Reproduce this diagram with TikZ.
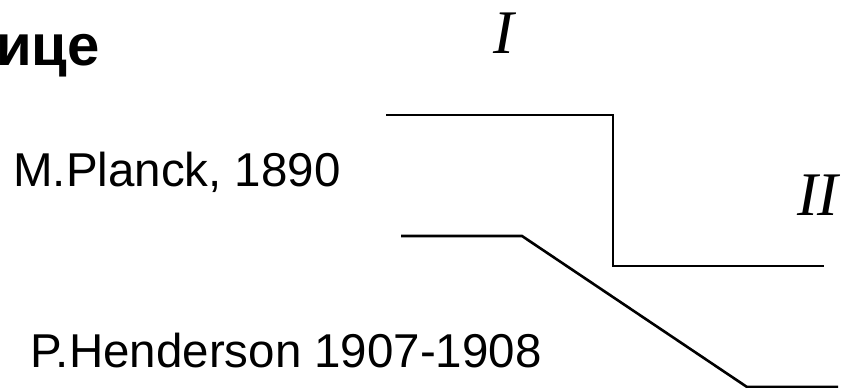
\documentclass[tikz,border=0pt]{standalone}
\usepackage{fontspec}
\setmainfont{Liberation Sans}
\newfontfamily\romanfont{Liberation Serif}
\usepackage{tikz}
\usetikzlibrary{arrows.meta,positioning,calc}

\begin{document}
\begin{tikzpicture}[
  x=1pt, y=-1pt, line width=2.6pt, line join=miter,
  author/.style={inner sep=0pt, font=\fontsize{47.5}{52}\selectfont},
  roman/.style={inner sep=0pt, font=\romanfont\itshape\fontsize{62}{66}\selectfont},
  hdr/.style={inner sep=0pt, font=\bfseries\fontsize{58}{62}\selectfont}]
\clip (0,0) rectangle (843,388);
\node[hdr, anchor=base east]   (head) at (101,65)  {границе};
\node[roman, anchor=base]      (one)  at (504,53)  {I};
\node[roman, anchor=base west] (two)  at (796,215) {II};
\node[author, anchor=base west] (pl)  at (12,186)  {M.Planck, 1890};
\node[author, anchor=base west] (hen) at (29,367)  {P.Henderson 1907-1908};
% Planck: sharp step
\coordinate (p1) at (386,115);
\coordinate (p2) at (613,115);
\coordinate (p3) at (613,266);
\coordinate (p4) at (824,266);
\draw (p1) -- (p2) -- (p3) -- (p4);
% Henderson: linear transition
\coordinate (h1) at (401,236);
\coordinate (h2) at (522,236);
\coordinate (h3) at (747,387);
\coordinate (h4) at (838,387);
\draw (h1) -- (h2) -- (h3) -- (h4);
\end{tikzpicture}
\end{document}
